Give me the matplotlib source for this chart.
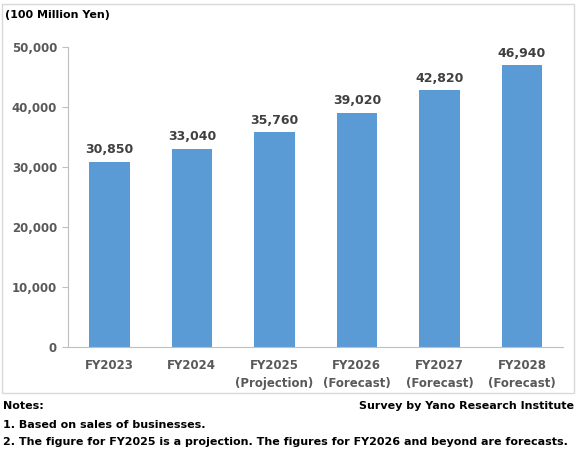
import matplotlib.pyplot as plt
from matplotlib.patches import Rectangle

# chart values
years = ["FY2023", "FY2024", "FY2025\n(Projection)", "FY2026\n(Forecast)", "FY2027\n(Forecast)", "FY2028\n(Forecast)"]
sales = [30850, 33040, 35760, 39020, 42820, 46940]
yticks = [0, 10000, 20000, 30000, 40000, 50000]

plt.rcParams['font.family'] = ['DejaVu Sans']
plt.rcParams['font.weight'] = 'bold'

fig = plt.figure(figsize=(5.77, 4.55), dpi=100)
ax = fig.add_axes([0.118, 0.2374, 0.858, 0.6593])

# border around the chart area
fig.patches.append(Rectangle((0.004, 0.137), 0.991, 0.854, transform=fig.transFigure,
                             fill=False, edgecolor='#d9d9d9', linewidth=1))

x = range(len(years))
bars = ax.bar(x, sales, width=0.49, color='#5b9bd5')
for xi, v in zip(x, sales):
    ax.text(xi, v + 900, f"{v:,}", ha='center', va='bottom', fontsize=9,
            fontweight='bold', color='#404040')

ax.set_ylim(0, 50000)
ax.set_xlim(-0.5, len(years) - 0.5)
ax.set_yticks(yticks)
ax.set_yticklabels([f"{t:,}" for t in yticks], fontsize=8.5, color='#595959', fontweight='bold')
ax.set_xticks(list(x))
ax.set_xticklabels(years, fontsize=8.5, color='#595959', fontweight='bold', linespacing=1.5)
ax.tick_params(axis='x', length=0, pad=9)
ax.tick_params(axis='y', length=4, color='#bfbfbf', pad=4)
for s in ['top', 'right']:
    ax.spines[s].set_visible(False)
ax.spines['left'].set_color('#bfbfbf')
ax.spines['bottom'].set_color('#bfbfbf')

fig.text(0.008, 0.978, "(100 Million Yen)", fontsize=8, fontweight='bold', va='top', color='black')
fig.text(0.006, 0.108, "Notes:", fontsize=8, fontweight='bold', va='center')
fig.text(0.994, 0.108, "Survey by Yano Research Institute", fontsize=8, fontweight='bold', va='center', ha='right')
fig.text(0.006, 0.066, "1. Based on sales of businesses.", fontsize=8, fontweight='bold', va='center')
fig.text(0.006, 0.028, "2. The figure for FY2025 is a projection. The figures for FY2026 and beyond are forecasts.",
         fontsize=8, fontweight='bold', va='center')

fig.savefig("out.png", dpi=100)
